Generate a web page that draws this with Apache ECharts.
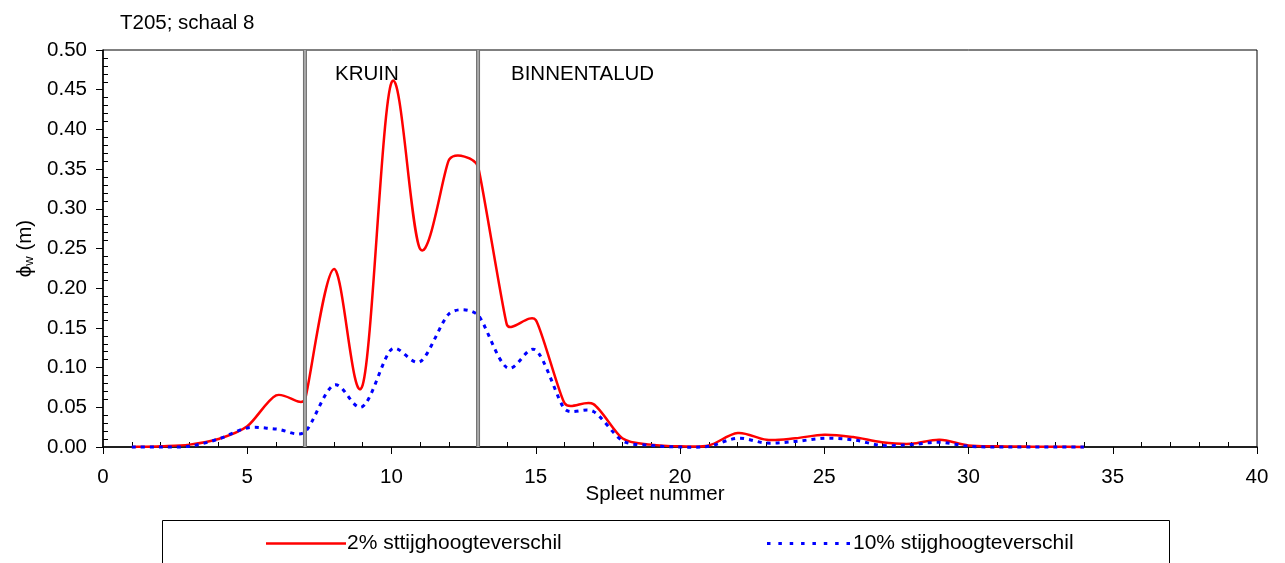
<!DOCTYPE html>
<html>
<head>
<meta charset="utf-8">
<script src="https://cdn.jsdelivr.net/npm/echarts@6/dist/echarts.min.js"></script>
<style>html,body{margin:0;padding:0;background:#fff}#c{width:1285px;height:563px}</style>
</head>
<body>
<div id="c"></div>
<script>
const spleet = [1,2,3,4,5,6,7,8,9,10,11,12,13,14,15,16,17,18,19,20,21,22,23,24,25,26,27,28,29,30,31,32,33,34];
const red2 = [0.000,0.001,0.003,0.010,0.026,0.065,0.060,0.224,0.078,0.459,0.249,0.362,0.353,0.154,0.160,0.055,0.054,0.011,0.003,0.001,0.002,0.0176,0.009,0.011,0.0155,0.0125,0.006,0.004,0.009,0.002,0.001,0.0005,0.0003,0.000];
const blue10 = [0.000,0.000,0.001,0.010,0.024,0.0226,0.019,0.078,0.051,0.123,0.1076,0.168,0.166,0.100,0.122,0.048,0.0447,0.008,0.002,0.000,0.001,0.011,0.005,0.007,0.011,0.009,0.002,0.003,0.006,0.001,0.000,0.000,0.000,0.000];
const seriesNames = ['2% sttijghoogteverschil', '10% stijghoogteverschil'];
const zoneBounds = [7, 13];
const zoneLabels = ['KRUIN', 'BINNENTALUD'];
const titleText = 'T205; schaal 8';
const xName = 'Spleet nummer';
const yMin = 0, yMax = 0.5, xMin = 0, xMax = 40;

const FONT = 'Liberation Sans, Arial, sans-serif';
const FS = 20.5;
const chart = echarts.init(document.getElementById('c'));
const toPairs = arr => spleet.map((x, i) => [x, arr[i]]);

// Excel-like smoothed curve through the data points (Bezier, tangent parallel to P(i+1)-P(i-1))
function smoothPath(api, n) {
  const p = [];
  for (let i = 0; i < n; i++) p.push(api.coord([api.value(0, i), api.value(1, i)]));
  const dist = (a, b) => Math.hypot(b[0] - a[0], b[1] - a[1]);
  const tan = i => {
    const a = p[Math.max(i - 1, 0)], c = p[Math.min(i + 1, n - 1)], b = p[i];
    const d02 = dist(a, c);
    if (d02 === 0) return [0, 0];
    const d01 = dist(a, b), d12 = dist(b, c);
    let s = 1 / 6;
    if (i > 0 && i < n - 1) s *= Math.min(1, 2 * Math.min(d01, d12) / d02);
    return [(c[0] - a[0]) * s, (c[1] - a[1]) * s];
  };
  const t = p.map((_, i) => tan(i));
  let d = 'M' + p[0][0] + ' ' + p[0][1];
  for (let i = 0; i < n - 1; i++) {
    const c1 = [p[i][0] + t[i][0], p[i][1] + t[i][1]];
    const c2 = [p[i + 1][0] - t[i + 1][0], p[i + 1][1] - t[i + 1][1]];
    d += ' C' + c1[0] + ' ' + c1[1] + ' ' + c2[0] + ' ' + c2[1] + ' ' + p[i + 1][0] + ' ' + p[i + 1][1];
  }
  return d;
}
function curveSeries(name, arr, color, width, dash, z) {
  return {
    name, type: 'custom', coordinateSystem: 'cartesian2d', xAxisIndex: 0, yAxisIndex: 0,
    data: toPairs(arr), itemStyle: { color }, z, silent: true,
    renderItem: (params, api) => {
      if (params.dataIndexInside !== 0) return null;
      const st = { stroke: color, lineWidth: width, fill: 'none', lineCap: 'butt', lineJoin: 'round' };
      if (dash) st.lineDash = dash;
      return { type: 'path', shape: { pathData: smoothPath(api, params.dataInsideLength) }, style: st };
    }
  };
}
const dashIcon = (() => {
  let s = 'path://';
  for (let k = 0; k < 8; k++) { const x0 = (k * 11.36).toFixed(2); s += 'M' + x0 + ',0h3.5v3h-3.5z'; }
  return s;
})();

chart.setOption({
  animation: false,
  textStyle: { fontFamily: FONT, color: '#000' },
  title: { text: titleText, left: 115, top: 8, textStyle: { fontFamily: FONT, fontSize: FS, fontWeight: 'normal', color: '#000' } },
  grid: { left: 103, right: 28, top: 50, bottom: 116, show: true, borderColor: '#000', borderWidth: 1, backgroundColor: 'transparent' },
  legend: [
    { data: [seriesNames[0]], left: 266, top: 533, padding: 0, itemWidth: 80, itemHeight: 2.5, icon: 'path://M0,0H80V2.5H0Z',
      textStyle: { fontFamily: FONT, fontSize: 21, color: '#000', padding: [0,0,0,-4] } },
    { data: [seriesNames[1]], left: 767, top: 533, padding: 0, itemWidth: 83, itemHeight: 3, icon: dashIcon,
      textStyle: { fontFamily: FONT, fontSize: 21, color: '#000', padding: [0,0,0,-2] } }
  ],
  xAxis: [
    { type: 'value', min: xMin, max: xMax, interval: 5, position: 'bottom',
      name: xName, nameLocation: 'middle', nameGap: 37, nameMoveOverlap: false,
      nameTextStyle: { fontFamily: FONT, fontSize: FS, color: '#000', padding: [0, 50, 0, 0] },
      axisLine: { show: true, onZero: false, lineStyle: { color: '#000', width: 1.5 } },
      axisTick: { show: true, length: 7, lineStyle: { color: '#000', width: 1 } },
      axisLabel: { fontFamily: FONT, fontSize: FS, color: '#000', margin: 20 },
      splitLine: { show: false } },
    { type: 'value', min: xMin, max: xMax, interval: 5, position: 'bottom',
      axisLine: { show: false }, axisTick: { show: false, inside: true },
      axisLabel: { show: false }, splitLine: { show: false },
      minorTick: { show: true, splitNumber: 5, length: 5, lineStyle: { color: '#000', width: 1 } } }
  ],
  yAxis: [
    { type: 'value', min: yMin, max: yMax, interval: 0.05, position: 'left',
      name: '{phi|ϕ}{sub|w}{n| (m)}', nameLocation: 'middle', nameGap: 67, nameRotate: 90, nameMoveOverlap: false,
      nameTextStyle: { rich: {
        phi: { fontFamily: FONT, fontSize: FS, color: '#000' },
        sub: { fontFamily: FONT, fontSize: 13, color: '#000', verticalAlign: 'bottom', padding: [8,0,0,0] },
        n: { fontFamily: FONT, fontSize: FS, color: '#000' } } },
      axisLine: { show: true, onZero: false, lineStyle: { color: '#000', width: 1.5 } },
      axisTick: { show: true, length: 7, lineStyle: { color: '#000', width: 1 } },
      axisLabel: { fontFamily: FONT, fontSize: FS, color: '#000', margin: 16, formatter: v => v.toFixed(2) },
      splitLine: { show: false } },
    { type: 'value', min: yMin, max: yMax, interval: 0.05, position: 'left',
      axisLine: { show: false }, axisTick: { show: false, inside: true },
      axisLabel: { show: false }, splitLine: { show: false },
      minorTick: { show: true, splitNumber: 5, length: 5, lineStyle: { color: '#000', width: 1 } } }
  ],
  graphic: [
    { type: 'text', left: 335, top: 64, style: { text: zoneLabels[0], font: FS + 'px ' + FONT, fill: '#000' } },
    { type: 'text', left: 511, top: 64, style: { text: zoneLabels[1], font: FS + 'px ' + FONT, fill: '#000' } },
    { type: 'rect', shape: { x: 162.5, y: 520.5, width: 1007, height: 60 }, style: { fill: 'none', stroke: '#000', lineWidth: 1 } }
  ],
  series: [
    curveSeries(seriesNames[0], red2, '#ff0000', 2.5, null, 3),
    curveSeries(seriesNames[1], blue10, '#0000ff', 3, [4, 5], 4),
    { type: 'custom', coordinateSystem: 'cartesian2d', xAxisIndex: 0, yAxisIndex: 0, silent: true, z: 5,
      data: zoneBounds.map(v => [v]),
      renderItem: (params, api) => {
        const a = api.coord([api.value(0), yMin]), b = api.coord([api.value(0), yMax]);
        return { type: 'group', children: [
          { type: 'line', shape: { x1: a[0], y1: a[1], x2: b[0], y2: b[1] }, style: { stroke: '#6f6f6f', lineWidth: 4 } },
          { type: 'line', shape: { x1: a[0], y1: a[1], x2: b[0], y2: b[1] }, style: { stroke: '#a8a8a8', lineWidth: 2 } }
        ] };
      } }
  ]
});
</script>
</body>
</html>
